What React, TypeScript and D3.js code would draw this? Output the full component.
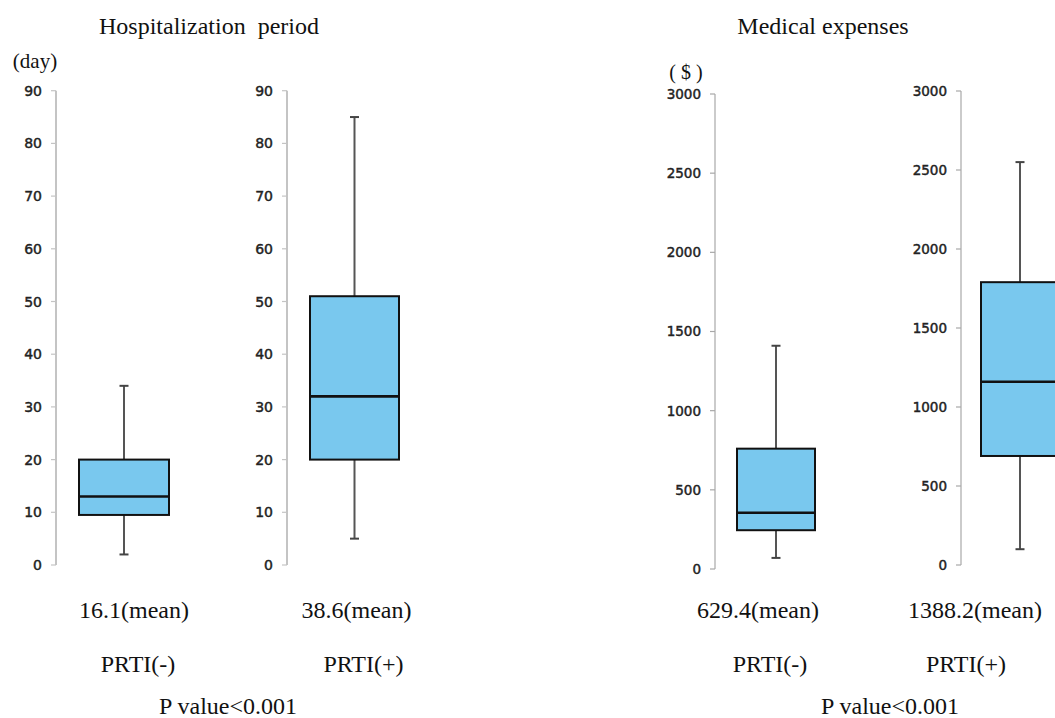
import React from "react";
import * as d3 from "d3";

// ---- data ----
const categories = ["PRTI(-)", "PRTI(+)"];

const dayMin = [2, 5];
const dayQ1 = [9.5, 20];
const dayMedian = [13, 32];
const dayQ3 = [20, 51];
const dayMax = [34, 85];
const dayMean = [16.1, 38.6];
const dayTicks = [0, 10, 20, 30, 40, 50, 60, 70, 80, 90];

const costMin = [70, 100];
const costQ1 = [245, 690];
const costMedian = [355, 1160];
const costQ3 = [760, 1790];
const costMax = [1410, 2550];
const costMean = [629.4, 1388.2];
const costTicks = [0, 500, 1000, 1500, 2000, 2500, 3000];

const titles = ["Hospitalization  period", "Medical expenses"];
const units = ["(day)", "( $ )"];
const pLabels = ["P value<0.001", "P value<0.001"];

// ---- layout ----
type Panel = {
  axisX: number;
  y0: number;
  y1: number;
  boxOffset: number;
  boxWidth: number;
  meanDx: number;
  catDx: number;
  fontSize: number;
  axisColor: string;
  axisWidth: number;
};

const dayPanels: Panel[] = [
  { axisX: 56, y0: 565, y1: 90.7, boxOffset: 68, boxWidth: 90, meanDx: 10, catDx: 14, fontSize: 14, axisColor: "#c4c4c4", axisWidth: 2 },
  { axisX: 287, y0: 565, y1: 90.7, boxOffset: 67.5, boxWidth: 89, meanDx: 2, catDx: 9, fontSize: 14, axisColor: "#c4c4c4", axisWidth: 2 },
];
const costPanels: Panel[] = [
  { axisX: 715, y0: 569, y1: 94, boxOffset: 61, boxWidth: 78, meanDx: -18, catDx: -6, fontSize: 13.5, axisColor: "#a8a8a8", axisWidth: 1.2 },
  { axisX: 961, y0: 565, y1: 91, boxOffset: 59, boxWidth: 78, meanDx: -45, catDx: -54, fontSize: 13.5, axisColor: "#a8a8a8", axisWidth: 1.2 },
];

const FILL = "#79c8ee";
const SERIF = "'Liberation Serif', 'Times New Roman', serif";
const SANS = "'DejaVu Sans', Verdana, sans-serif";

function BoxPanel({
  p,
  domainMax,
  ticks,
  i,
  mins,
  q1s,
  meds,
  q3s,
  maxs,
  means,
}: {
  p: Panel;
  domainMax: number;
  ticks: number[];
  i: number;
  mins: number[];
  q1s: number[];
  meds: number[];
  q3s: number[];
  maxs: number[];
  means: number[];
}) {
  const y = d3.scaleLinear().domain([0, domainMax]).range([p.y0, p.y1]);
  const cx = p.axisX + p.boxOffset;
  const half = p.boxWidth / 2;
  const cap = 4.5;
  return (
    <g>
      <line x1={p.axisX} x2={p.axisX} y1={y(0)} y2={y(domainMax)} stroke={p.axisColor} strokeWidth={p.axisWidth} />
      {ticks.map((t) => (
        <g key={t}>
          <line x1={p.axisX - 5} x2={p.axisX} y1={y(t)} y2={y(t)} stroke={p.axisColor} strokeWidth={1.2} />
          <text
            x={p.axisX - 14}
            y={y(t)}
            dy="0.36em"
            textAnchor="end"
            fontFamily={SANS}
            fontSize={p.fontSize}
            fill="#222"
            stroke="#222"
            strokeWidth={0.45}
          >
            {t}
          </text>
        </g>
      ))}
      {/* whiskers */}
      <line x1={cx} x2={cx} y1={y(q3s[i])} y2={y(maxs[i])} stroke="#555" strokeWidth={2} />
      <line x1={cx} x2={cx} y1={y(q1s[i])} y2={y(mins[i])} stroke="#555" strokeWidth={2} />
      <line x1={cx - cap} x2={cx + cap} y1={y(maxs[i])} y2={y(maxs[i])} stroke="#444" strokeWidth={2} />
      <line x1={cx - cap} x2={cx + cap} y1={y(mins[i])} y2={y(mins[i])} stroke="#444" strokeWidth={2} />
      {/* box */}
      <rect
        x={cx - half}
        y={y(q3s[i])}
        width={p.boxWidth}
        height={y(q1s[i]) - y(q3s[i])}
        fill={FILL}
        stroke="#111"
        strokeWidth={2}
      />
      <line x1={cx - half} x2={cx + half} y1={y(meds[i])} y2={y(meds[i])} stroke="#111" strokeWidth={2.6} />
      {/* labels */}
      <text x={cx + p.meanDx} y={618} textAnchor="middle" fontFamily={SERIF} fontSize={24} fill="#111">
        {`${means[i]}(mean)`}
      </text>
      <text x={cx + p.catDx} y={672} textAnchor="middle" fontFamily={SERIF} fontSize={24} fill="#111">
        {categories[i]}
      </text>
    </g>
  );
}

export default function App() {
  return (
    <svg
      width={1055}
      height={718}
      style={{ position: "absolute", left: 0, top: 0, background: "#fff" }}
    >
      <rect width={1055} height={718} fill="#fff" />
      <text x={209} y={34} textAnchor="middle" fontFamily={SERIF} fontSize={24} fill="#111" style={{ whiteSpace: "pre" }}>
        {titles[0]}
      </text>
      <text x={823} y={34} textAnchor="middle" fontFamily={SERIF} fontSize={24} fill="#111">
        {titles[1]}
      </text>
      <text x={35} y={68} textAnchor="middle" fontFamily={SERIF} fontSize={21} fill="#111">
        {units[0]}
      </text>
      <text x={686} y={79} textAnchor="middle" fontFamily={SERIF} fontSize={20} fill="#111" style={{ whiteSpace: "pre" }}>
        {units[1]}
      </text>
      {dayPanels.map((p, i) => (
        <BoxPanel
          key={"d" + i}
          p={p}
          domainMax={90}
          ticks={dayTicks}
          i={i}
          mins={dayMin}
          q1s={dayQ1}
          meds={dayMedian}
          q3s={dayQ3}
          maxs={dayMax}
          means={dayMean}
        />
      ))}
      {costPanels.map((p, i) => (
        <BoxPanel
          key={"c" + i}
          p={p}
          domainMax={3000}
          ticks={costTicks}
          i={i}
          mins={costMin}
          q1s={costQ1}
          meds={costMedian}
          q3s={costQ3}
          maxs={costMax}
          means={costMean}
        />
      ))}
      <text x={228} y={714} textAnchor="middle" fontFamily={SERIF} fontSize={24} fill="#111">
        {pLabels[0]}
      </text>
      <text x={890} y={714} textAnchor="middle" fontFamily={SERIF} fontSize={24} fill="#111">
        {pLabels[1]}
      </text>
    </svg>
  );
}
